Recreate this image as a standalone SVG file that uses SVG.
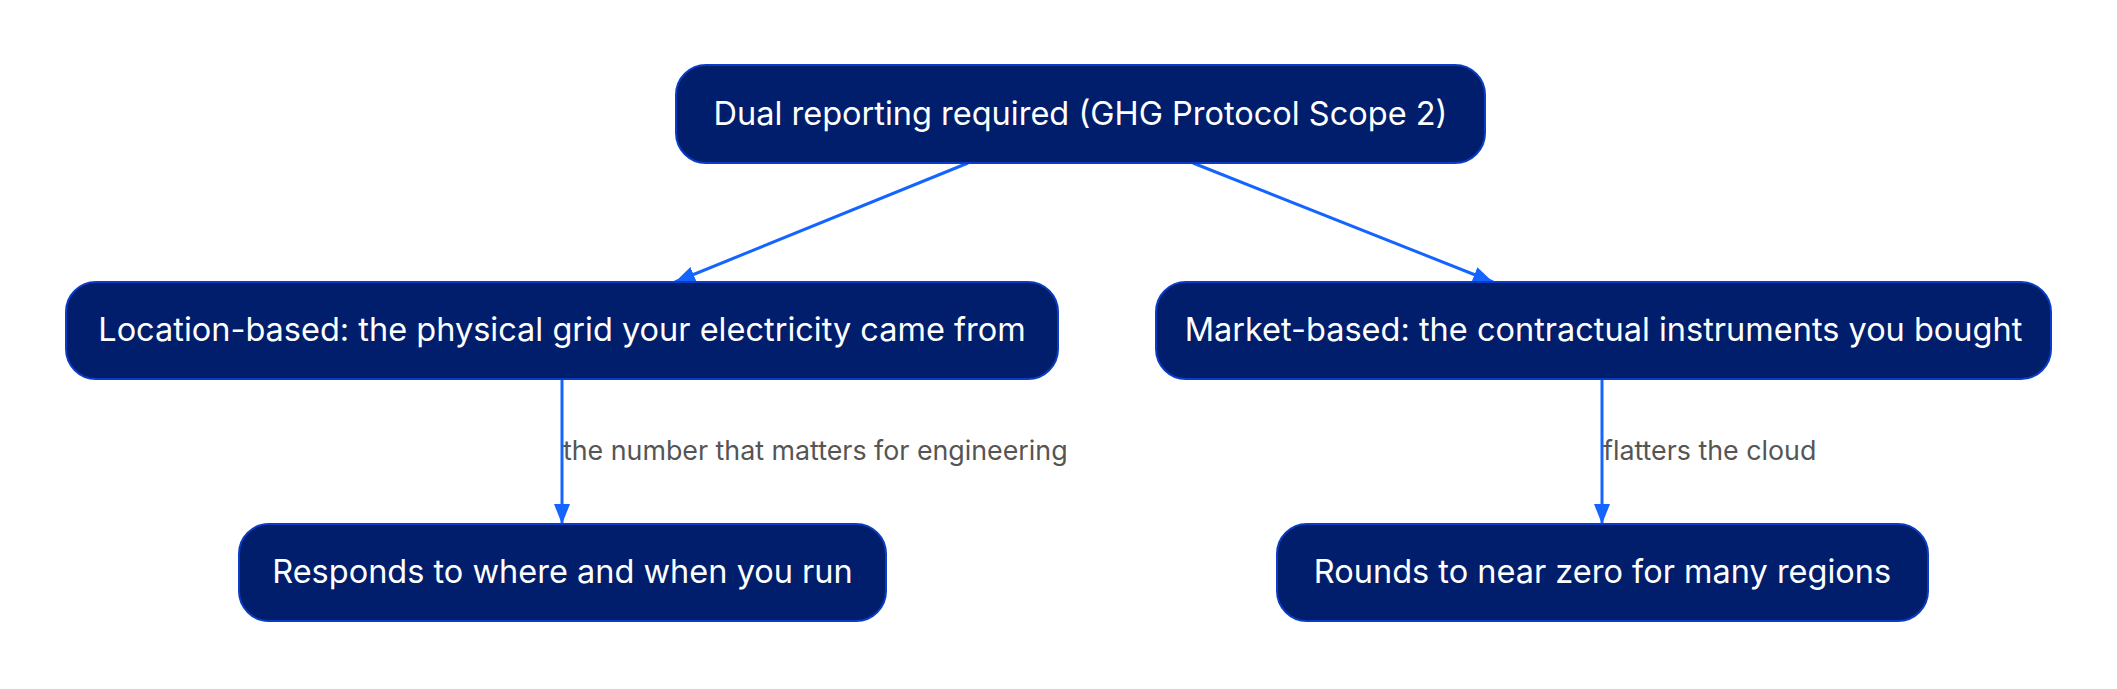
<svg xmlns="http://www.w3.org/2000/svg" width="2117" height="689" viewBox="0 0 2117 689">
  <defs>
    <marker id="arrow" viewBox="0 0 20 16" refX="20" refY="8" markerWidth="20" markerHeight="16" markerUnits="userSpaceOnUse" orient="auto">
      <path d="M0,0 L20,8 L0,16 Z" fill="#1464ff"/>
    </marker>
    <style>
      .node rect { fill: #001e6b; stroke: #0b3cc4; stroke-width: 2; }
      .node text { fill: #ffffff; font-family: Inter, "Liberation Sans", sans-serif; font-size: 32.5px; text-anchor: middle; dominant-baseline: central; }
      .edge { stroke: #1464ff; stroke-width: 3; fill: none; marker-end: url(#arrow); }
      .elabel { fill: #555555; font-family: Inter, "Liberation Sans", sans-serif; font-size: 26.8px; dominant-baseline: central; }
    </style>
  </defs>
  <rect width="2117" height="689" fill="#ffffff"/>

  <g id="connectors">
    <path class="edge" d="M968,163 L675,282"/>
    <path class="edge" d="M1193,163 L1493,282"/>
    <path class="edge" d="M562,379 L562,524"/>
    <text class="elabel" x="563" y="450">the number that matters for engineering</text>
    <path class="edge" d="M1602,379 L1602,524"/>
    <text class="elabel" x="1603" y="450">flatters the cloud</text>
  </g>

  <g id="dual-reporting" class="node">
    <rect x="676" y="65" width="809" height="98" rx="30" ry="30"/>
    <text x="1080.5" y="113">Dual reporting required (GHG Protocol Scope 2)</text>
  </g>
  <g id="location-based" class="node">
    <rect x="66" y="282" width="992" height="97" rx="30" ry="30"/>
    <text x="562" y="329.5">Location-based: the physical grid your electricity came from</text>
  </g>
  <g id="market-based" class="node">
    <rect x="1156" y="282" width="895" height="97" rx="30" ry="30"/>
    <text x="1603.5" y="329.5">Market-based: the contractual instruments you bought</text>
  </g>
  <g id="responds" class="node">
    <rect x="239" y="524" width="647" height="97" rx="30" ry="30"/>
    <text x="562.5" y="571.5">Responds to where and when you run</text>
  </g>
  <g id="rounds" class="node">
    <rect x="1277" y="524" width="651" height="97" rx="30" ry="30"/>
    <text x="1602.5" y="571.5">Rounds to near zero for many regions</text>
  </g>
</svg>
